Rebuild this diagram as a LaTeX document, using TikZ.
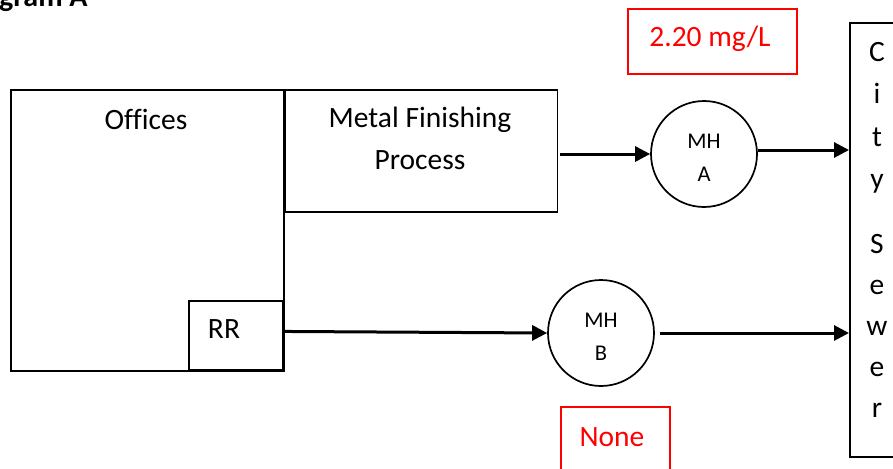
\documentclass[tikz,border=0pt]{standalone}
\usepackage{fontspec}
\setmainfont{Carlito}[Ligatures=NoCommon]
\usetikzlibrary{arrows.meta}
\begin{document}
\begin{tikzpicture}[x=1pt,y=-1pt,
  box/.style={draw,line width=1.9pt,inner sep=0pt,anchor=north west},
  redbox/.style={draw=red,line width=1.9pt,inner sep=0pt,anchor=north west},
  txt/.style={anchor=base,inner sep=0pt,font=\fontsize{29.5}{34}\selectfont},
  redtxt/.style={txt,text=red},
  mh/.style={draw,circle,line width=1.7pt,minimum size=106pt,inner sep=0pt},
  mhtxt/.style={anchor=base,inner sep=0pt,font=\fontsize{22.5}{26}\selectfont},
  flow/.style={line width=3pt,-{Triangle[length=15pt,width=15pt]}}]
\useasboundingbox (0,0) rectangle (893,468);
% title
\node[anchor=base west,inner sep=0pt,font=\fontsize{30}{36}\selectfont\bfseries] (title) at (-1,7) {gram A};
% boxes
\node[box,minimum width=273pt,minimum height=281pt] (offices) at (10,89) {};
\node[box,minimum width=272pt,minimum height=122pt] (metal) at (284.5,89) {};
\node[box,minimum width=94pt,minimum height=69pt] (rr) at (188,300) {};
\draw[line width=1.4pt] (rr.north east) -- (rr.south east);
\node[box,minimum width=60pt,minimum height=434pt] (sewer) at (849,22) {};
\node[redbox,minimum width=169pt,minimum height=65pt] (conc) at (627,8) {};
\node[redbox,minimum width=109pt,minimum height=80pt] (none) at (560,406) {};
% texts
\node[txt] (offt) at (146,129) {Offices};
\node[txt] (mft1) at (420,128) {Metal Finishing};
\node[txt] (mft2) at (420,169) {Process};
\node[txt] (rrt) at (224,338) {RR};
\node[redtxt] (conct) at (710,47) {2.20 mg/L};
\node[redtxt] (nonet) at (612,446) {None};
\foreach \l/\yy [count=\i] in {C/62,i/104,t/146,y/188,S/253,e/294,w/335,e/376,r/417}
  \node[txt] (cs\i) at (877,\yy) {\l};
% manholes
\node[mh] (mha) at (704,154) {};
\node[mhtxt] (mhat1) at (704,148) {MH};
\node[mhtxt] (mhat2) at (704,181) {A};
\node[mh] (mhb) at (601,333) {};
\node[mhtxt] (mhbt1) at (601,327) {MH};
\node[mhtxt] (mhbt2) at (601,360) {B};
% flows
\draw[flow,shorten <=2pt] (metal.east |- mha.west) -- (mha.west);
\draw[flow] ([yshift=4pt]mha.east) -- ([yshift=4pt]mha.east -| sewer.west);
\draw[flow] ([yshift=4pt]rr.east) -- (mhb.west);
\draw[flow,shorten <=5pt] (mhb.east) -- (mhb.east -| sewer.west);
\end{tikzpicture}
\end{document}
